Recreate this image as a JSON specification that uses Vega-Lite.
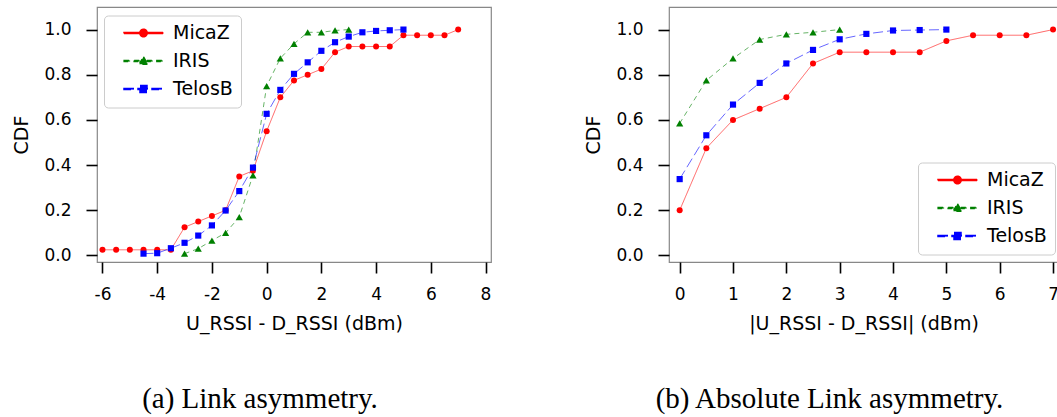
{
  "$schema": "https://vega.github.io/schema/vega-lite/v6.json",
  "padding": {"left": 12, "top": 6, "right": 0, "bottom": 0},
  "background": "white",
  "datasets": {
    "signed": [
      {"series": "MicaZ", "x": -6, "cdf": 0.025}, {"series": "MicaZ", "x": -5.5, "cdf": 0.025}, {"series": "MicaZ", "x": -5, "cdf": 0.025},
      {"series": "MicaZ", "x": -4.5, "cdf": 0.025}, {"series": "MicaZ", "x": -4, "cdf": 0.025}, {"series": "MicaZ", "x": -3.5, "cdf": 0.025},
      {"series": "MicaZ", "x": -3, "cdf": 0.125}, {"series": "MicaZ", "x": -2.5, "cdf": 0.15}, {"series": "MicaZ", "x": -2, "cdf": 0.175},
      {"series": "MicaZ", "x": -1.5, "cdf": 0.2}, {"series": "MicaZ", "x": -1, "cdf": 0.35}, {"series": "MicaZ", "x": -0.5, "cdf": 0.375},
      {"series": "MicaZ", "x": 0, "cdf": 0.55}, {"series": "MicaZ", "x": 0.5, "cdf": 0.7}, {"series": "MicaZ", "x": 1, "cdf": 0.775},
      {"series": "MicaZ", "x": 1.5, "cdf": 0.8}, {"series": "MicaZ", "x": 2, "cdf": 0.825}, {"series": "MicaZ", "x": 2.5, "cdf": 0.9},
      {"series": "MicaZ", "x": 3, "cdf": 0.925}, {"series": "MicaZ", "x": 3.5, "cdf": 0.925}, {"series": "MicaZ", "x": 4, "cdf": 0.925},
      {"series": "MicaZ", "x": 4.5, "cdf": 0.925}, {"series": "MicaZ", "x": 5, "cdf": 0.975}, {"series": "MicaZ", "x": 5.5, "cdf": 0.975},
      {"series": "MicaZ", "x": 6, "cdf": 0.975}, {"series": "MicaZ", "x": 6.5, "cdf": 0.975}, {"series": "MicaZ", "x": 7, "cdf": 1.0},
      {"series": "IRIS", "x": -3, "cdf": 0.008}, {"series": "IRIS", "x": -2.5, "cdf": 0.03}, {"series": "IRIS", "x": -2, "cdf": 0.066},
      {"series": "IRIS", "x": -1.5, "cdf": 0.1}, {"series": "IRIS", "x": -1, "cdf": 0.17}, {"series": "IRIS", "x": -0.5, "cdf": 0.355},
      {"series": "IRIS", "x": 0, "cdf": 0.75}, {"series": "IRIS", "x": 0.5, "cdf": 0.873}, {"series": "IRIS", "x": 1, "cdf": 0.937},
      {"series": "IRIS", "x": 1.5, "cdf": 0.988}, {"series": "IRIS", "x": 2, "cdf": 0.988}, {"series": "IRIS", "x": 2.5, "cdf": 0.996},
      {"series": "IRIS", "x": 3, "cdf": 1.0},
      {"series": "TelosB", "x": -4.5, "cdf": 0.008}, {"series": "TelosB", "x": -4, "cdf": 0.01}, {"series": "TelosB", "x": -3.5, "cdf": 0.032},
      {"series": "TelosB", "x": -3, "cdf": 0.056}, {"series": "TelosB", "x": -2.5, "cdf": 0.088}, {"series": "TelosB", "x": -2, "cdf": 0.133},
      {"series": "TelosB", "x": -1.5, "cdf": 0.199}, {"series": "TelosB", "x": -1, "cdf": 0.285}, {"series": "TelosB", "x": -0.5, "cdf": 0.389},
      {"series": "TelosB", "x": 0, "cdf": 0.627}, {"series": "TelosB", "x": 0.5, "cdf": 0.733}, {"series": "TelosB", "x": 1, "cdf": 0.804},
      {"series": "TelosB", "x": 1.5, "cdf": 0.855}, {"series": "TelosB", "x": 2, "cdf": 0.906}, {"series": "TelosB", "x": 2.5, "cdf": 0.944},
      {"series": "TelosB", "x": 3, "cdf": 0.969}, {"series": "TelosB", "x": 3.5, "cdf": 0.988}, {"series": "TelosB", "x": 4, "cdf": 0.994},
      {"series": "TelosB", "x": 4.5, "cdf": 0.997}, {"series": "TelosB", "x": 5, "cdf": 1.0}
    ],
    "absolute": [
      {"series": "MicaZ", "x": 0, "cdf": 0.2}, {"series": "MicaZ", "x": 0.5, "cdf": 0.475}, {"series": "MicaZ", "x": 1, "cdf": 0.6},
      {"series": "MicaZ", "x": 1.5, "cdf": 0.65}, {"series": "MicaZ", "x": 2, "cdf": 0.7}, {"series": "MicaZ", "x": 2.5, "cdf": 0.85},
      {"series": "MicaZ", "x": 3, "cdf": 0.9}, {"series": "MicaZ", "x": 3.5, "cdf": 0.9}, {"series": "MicaZ", "x": 4, "cdf": 0.9},
      {"series": "MicaZ", "x": 4.5, "cdf": 0.9}, {"series": "MicaZ", "x": 5, "cdf": 0.95}, {"series": "MicaZ", "x": 5.5, "cdf": 0.975},
      {"series": "MicaZ", "x": 6, "cdf": 0.975}, {"series": "MicaZ", "x": 6.5, "cdf": 0.975}, {"series": "MicaZ", "x": 7, "cdf": 1.0},
      {"series": "IRIS", "x": 0, "cdf": 0.585}, {"series": "IRIS", "x": 0.5, "cdf": 0.775}, {"series": "IRIS", "x": 1, "cdf": 0.872},
      {"series": "IRIS", "x": 1.5, "cdf": 0.956}, {"series": "IRIS", "x": 2, "cdf": 0.979}, {"series": "IRIS", "x": 2.5, "cdf": 0.988},
      {"series": "IRIS", "x": 3, "cdf": 1.0},
      {"series": "TelosB", "x": 0, "cdf": 0.338}, {"series": "TelosB", "x": 0.5, "cdf": 0.532}, {"series": "TelosB", "x": 1, "cdf": 0.668},
      {"series": "TelosB", "x": 1.5, "cdf": 0.764}, {"series": "TelosB", "x": 2, "cdf": 0.85}, {"series": "TelosB", "x": 2.5, "cdf": 0.91},
      {"series": "TelosB", "x": 3, "cdf": 0.957}, {"series": "TelosB", "x": 3.5, "cdf": 0.981}, {"series": "TelosB", "x": 4, "cdf": 0.996},
      {"series": "TelosB", "x": 4.5, "cdf": 0.998}, {"series": "TelosB", "x": 5, "cdf": 1.0}
    ]
  },
  "config": {
    "view": {"stroke": "#888888", "strokeWidth": 1.2},
    "axis": {
      "domain": false, "grid": false, "tickColor": "black", "tickWidth": 1.6, "tickSize": 11,
      "labelFont": "DejaVu Sans", "labelFontSize": 17, "labelColor": "black",
      "titleFont": "DejaVu Sans", "titleFontSize": 19, "titleFontWeight": "normal", "titleColor": "black"
    },
    "axisX": {"labelPadding": 13, "titlePadding": 12},
    "axisY": {"labelPadding": 15, "titlePadding": 12},
    "legend": {
      "title": null, "direction": "vertical", "padding": 8, "symbolOffset": 22, "labelOffset": 20,
      "labelFont": "DejaVu Sans", "labelFontSize": 19, "labelColor": "black", "rowPadding": 8,
      "strokeColor": "#cccccc", "cornerRadius": 4, "fillColor": "white", "symbolSize": 100, "symbolOpacity": 1
    },
    "title": {"font": "Liberation Serif", "fontSize": 29, "fontWeight": "normal", "color": "black"}
  },
  "resolve": {
    "scale": {"fill": "independent", "shape": "independent", "color": "independent", "strokeDash": "independent"},
    "legend": {"fill": "independent", "shape": "independent"}
  },
  "spacing": 92,
  "hconcat": [
    {
      "width": 394, "height": 255,
      "title": {"text": "(a) Link asymmetry.", "orient": "bottom", "anchor": "middle", "frame": "group", "dx": -34, "offset": 52},
      "data": {"name": "signed"},
      "encoding": {
        "x": {"field": "x", "type": "quantitative", "scale": {"domain": [-6.2, 8.2], "nice": false, "zero": false},
              "axis": {"title": "U_RSSI - D_RSSI (dBm)", "values": [-6, -4, -2, 0, 2, 4, 6, 8], "labelExpr": "'' + datum.value"}},
        "y": {"field": "cdf", "type": "quantitative", "scale": {"domain": [-0.029, 1.1], "nice": false, "zero": false},
              "axis": {"title": "CDF", "values": [0, 0.2, 0.4, 0.6, 0.8, 1.0], "format": ".1f"}}
      },
      "layer": [
        {"mark": {"type": "point", "filled": true, "size": 100, "opacity": 0},
         "encoding": {
           "fill": {"field": "series", "type": "nominal", "scale": {"domain": ["MicaZ", "IRIS", "TelosB"], "range": ["#ff0000", "#008000", "#0000ff"]},
                    "legend": {"orient": "none", "legendX": 7, "legendY": 8.5, "symbolOpacity": 1, "encode": {"symbols": {"update": {"opacity": {"value": 1}}}}}},
           "shape": {"field": "series", "type": "nominal",
                     "scale": {"domain": ["MicaZ", "IRIS", "TelosB"], "range": [
                       "M-3.9,-0.1H3.9V0.1H-3.9Z M0.75,0A0.75,0.75,0,1,1,-0.75,0A0.75,0.75,0,1,1,0.75,0Z",
                       "M-3.87,-0.1H-2.67V0.1H-3.87Z M-1.87,-0.1H-0.67V0.1H-1.87Z M0.67,-0.1H1.87V0.1H0.67Z M2.67,-0.1H3.87V0.1H2.67Z M0,-0.85L0.85,0.65H-0.85Z",
                       "M-3.9,-0.1H-1.9V0.1H-3.9Z M-1.1,-0.1H0.9V0.1H-1.1Z M1.7,-0.1H3.7V0.1H1.7Z M-0.7,-0.7H0.7V0.7H-0.7Z"
                     ]},
                     "legend": {"orient": "none", "legendX": 7, "legendY": 8.5, "symbolOpacity": 1, "encode": {"symbols": {"update": {"opacity": {"value": 1}}}}}}
         }},
        {"mark": {"type": "line", "strokeWidth": 1, "opacity": 0.6},
         "encoding": {
           "color": {"field": "series", "type": "nominal", "scale": {"domain": ["MicaZ", "IRIS", "TelosB"], "range": ["#ff0000", "#008000", "#0000ff"]}, "legend": null},
           "strokeDash": {"field": "series", "type": "nominal", "scale": {"domain": ["MicaZ", "IRIS", "TelosB"], "range": [[1, 0], [5, 4], [10, 4]]}, "legend": null}
         }},
        {"transform": [{"filter": "datum.series === 'MicaZ'"}], "mark": {"type": "point", "shape": "circle", "filled": true, "size": 36, "opacity": 1, "color": "#ff0000"}},
        {"transform": [{"filter": "datum.series === 'IRIS'"}], "mark": {"type": "point", "shape": "triangle-up", "filled": true, "size": 52, "opacity": 1, "color": "#008000"}},
        {"transform": [{"filter": "datum.series === 'TelosB'"}], "mark": {"type": "point", "shape": "square", "filled": true, "size": 38, "opacity": 1, "color": "#0000ff"}}
      ]
    },
    {
      "width": 389, "height": 255,
      "title": {"text": "(b) Absolute Link asymmetry.", "orient": "bottom", "anchor": "middle", "frame": "group", "dx": -34, "offset": 52},
      "data": {"name": "absolute"},
      "encoding": {
        "x": {"field": "x", "type": "quantitative", "scale": {"domain": [-0.2, 7.093], "nice": false, "zero": false},
              "axis": {"title": "|U_RSSI - D_RSSI| (dBm)", "values": [0, 1, 2, 3, 4, 5, 6, 7], "labelExpr": "'' + datum.value"}},
        "y": {"field": "cdf", "type": "quantitative", "scale": {"domain": [-0.029, 1.1], "nice": false, "zero": false},
              "axis": {"title": "CDF", "values": [0, 0.2, 0.4, 0.6, 0.8, 1.0], "format": ".1f"}}
      },
      "layer": [
        {"mark": {"type": "point", "filled": true, "size": 100, "opacity": 0},
         "encoding": {
           "fill": {"field": "series", "type": "nominal", "scale": {"domain": ["MicaZ", "IRIS", "TelosB"], "range": ["#ff0000", "#008000", "#0000ff"]},
                    "legend": {"orient": "none", "legendX": 249, "legendY": 155.5, "symbolOpacity": 1, "encode": {"symbols": {"update": {"opacity": {"value": 1}}}}}},
           "shape": {"field": "series", "type": "nominal",
                     "scale": {"domain": ["MicaZ", "IRIS", "TelosB"], "range": [
                       "M-3.9,-0.1H3.9V0.1H-3.9Z M0.75,0A0.75,0.75,0,1,1,-0.75,0A0.75,0.75,0,1,1,0.75,0Z",
                       "M-3.87,-0.1H-2.67V0.1H-3.87Z M-1.87,-0.1H-0.67V0.1H-1.87Z M0.67,-0.1H1.87V0.1H0.67Z M2.67,-0.1H3.87V0.1H2.67Z M0,-0.85L0.85,0.65H-0.85Z",
                       "M-3.9,-0.1H-1.9V0.1H-3.9Z M-1.1,-0.1H0.9V0.1H-1.1Z M1.7,-0.1H3.7V0.1H1.7Z M-0.7,-0.7H0.7V0.7H-0.7Z"
                     ]},
                     "legend": {"orient": "none", "legendX": 249, "legendY": 155.5, "symbolOpacity": 1, "encode": {"symbols": {"update": {"opacity": {"value": 1}}}}}}
         }},
        {"mark": {"type": "line", "strokeWidth": 1, "opacity": 0.6},
         "encoding": {
           "color": {"field": "series", "type": "nominal", "scale": {"domain": ["MicaZ", "IRIS", "TelosB"], "range": ["#ff0000", "#008000", "#0000ff"]}, "legend": null},
           "strokeDash": {"field": "series", "type": "nominal", "scale": {"domain": ["MicaZ", "IRIS", "TelosB"], "range": [[1, 0], [5, 4], [10, 4]]}, "legend": null}
         }},
        {"transform": [{"filter": "datum.series === 'MicaZ'"}], "mark": {"type": "point", "shape": "circle", "filled": true, "size": 36, "opacity": 1, "color": "#ff0000"}},
        {"transform": [{"filter": "datum.series === 'IRIS'"}], "mark": {"type": "point", "shape": "triangle-up", "filled": true, "size": 52, "opacity": 1, "color": "#008000"}},
        {"transform": [{"filter": "datum.series === 'TelosB'"}], "mark": {"type": "point", "shape": "square", "filled": true, "size": 38, "opacity": 1, "color": "#0000ff"}}
      ]
    }
  ]
}
